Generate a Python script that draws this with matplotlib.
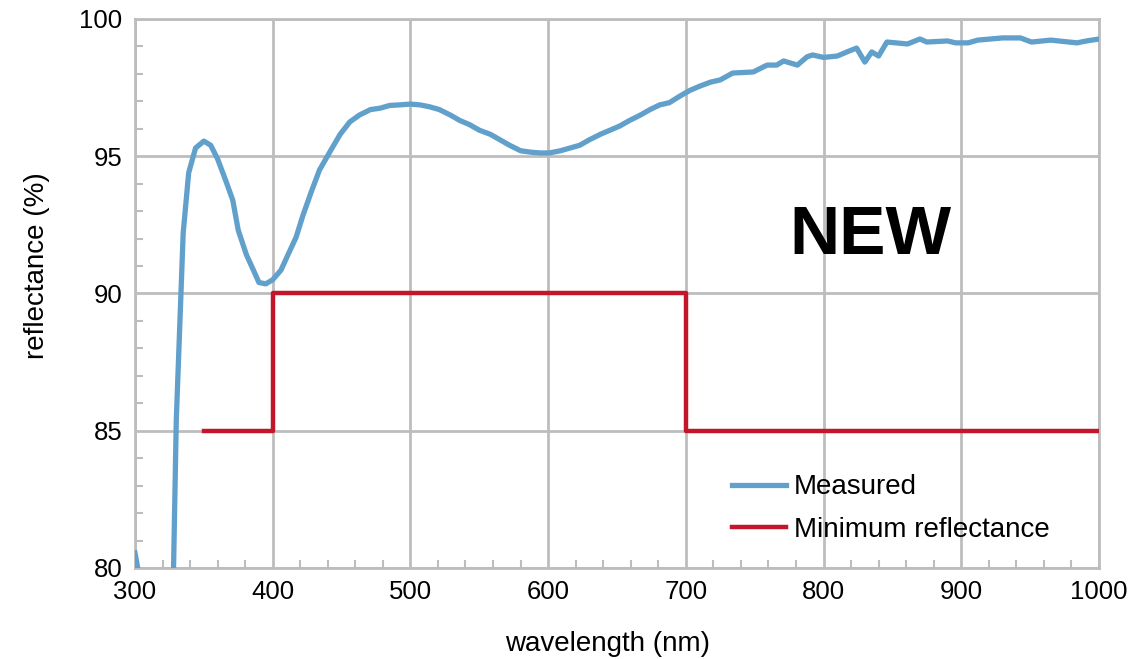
import matplotlib.pyplot as plt
from matplotlib.ticker import MultipleLocator

plt.rcParams['font.family'] = ['Liberation Sans', 'DejaVu Sans']

# Measured reflectance curve
wavelength = [300, 302, 310, 320, 328, 330, 335, 339, 344, 350, 355, 360, 366, 371,
              375, 381, 386, 390, 395, 400, 406, 411, 417, 422, 428, 434, 442, 449,
              456, 463, 471, 478, 485, 492, 500, 507, 514, 521, 529, 536, 543, 550,
              558, 565, 572, 580, 587, 594, 601, 609, 616, 623, 630, 638, 645, 652,
              659, 667, 674, 681, 688, 696, 703, 710, 718, 725, 734, 749, 759, 766,
              771, 781, 788, 792, 800, 810, 817, 824, 830, 835, 840, 846, 861, 870,
              875, 890, 896, 905, 912, 921, 930, 943, 951, 965, 984, 991, 1000]
measured = [80.55, 80.0, 76.0, 76.0, 80.0, 85.4, 92.2, 94.4, 95.3, 95.55, 95.4, 94.9,
            94.1, 93.4, 92.3, 91.4, 90.85, 90.4, 90.35, 90.5, 90.85, 91.4, 92.05,
            92.85, 93.7, 94.5, 95.2, 95.8, 96.25, 96.5, 96.7, 96.75, 96.85, 96.87,
            96.9, 96.87, 96.8, 96.7, 96.5, 96.3, 96.15, 95.95, 95.8, 95.6, 95.4, 95.2,
            95.15, 95.12, 95.12, 95.2, 95.3, 95.4, 95.6, 95.8, 95.95, 96.1, 96.3,
            96.5, 96.7, 96.87, 96.95, 97.2, 97.4, 97.55, 97.7, 97.78, 98.03, 98.07,
            98.32, 98.32, 98.47, 98.32, 98.62, 98.69, 98.6, 98.65, 98.8, 98.94,
            98.43, 98.8, 98.65, 99.16, 99.09, 99.27, 99.16, 99.2, 99.13, 99.13,
            99.23, 99.27, 99.31, 99.31, 99.16, 99.23, 99.13, 99.2, 99.27]

# Minimum reflectance specification (step line)
spec_wl = [350, 400, 400, 700, 700, 1000]
spec_min = [85, 85, 90, 90, 85, 85]

grid_col = '#bdbdbd'
blue = '#62a0cc'
red = '#c4162a'

fig = plt.figure(figsize=(11.42, 6.59), dpi=100)
ax = fig.add_axes([0.1182, 0.1381, 0.8441, 0.8331])

ax.plot(wavelength, measured, color=blue, lw=3.8, label='Measured',
        solid_joinstyle='round', zorder=3)
ax.plot(spec_wl, spec_min, color=red, lw=3.2, label='Minimum reflectance', zorder=3)

ax.set_xlim(300, 1000)
ax.set_ylim(80, 100)
ax.xaxis.set_major_locator(MultipleLocator(100))
ax.yaxis.set_major_locator(MultipleLocator(5))
ax.xaxis.set_minor_locator(MultipleLocator(20))
ax.yaxis.set_minor_locator(MultipleLocator(1))
ax.grid(True, which='major', color=grid_col, lw=2)
ax.set_axisbelow(True)
for s in ax.spines.values():
    s.set_color(grid_col)
    s.set_linewidth(2)
ax.tick_params(which='major', length=0, labelsize=18.5, pad=9)
ax.tick_params(which='minor', direction='in', length=6, width=1.5, color=grid_col)
ax.tick_params(axis='x', which='minor', top=False)
ax.tick_params(axis='y', which='minor', right=False)

ax.set_xlabel('wavelength (nm)', fontsize=20)
ax.xaxis.set_label_coords(0.49, -0.115)
ax.set_ylabel('reflectance (%)', fontsize=20)
ax.yaxis.set_label_coords(-0.088, 0.55)

ax.text(834, 92.1, 'NEW', fontsize=50, fontweight='bold', ha='center', va='center')

ax.legend(loc='lower left', bbox_to_anchor=(0.593, 0.0), frameon=False, fontsize=20,
          handlelength=1.95, labelspacing=0.6, handletextpad=0.3)

fig.savefig('out.png', dpi=100)
